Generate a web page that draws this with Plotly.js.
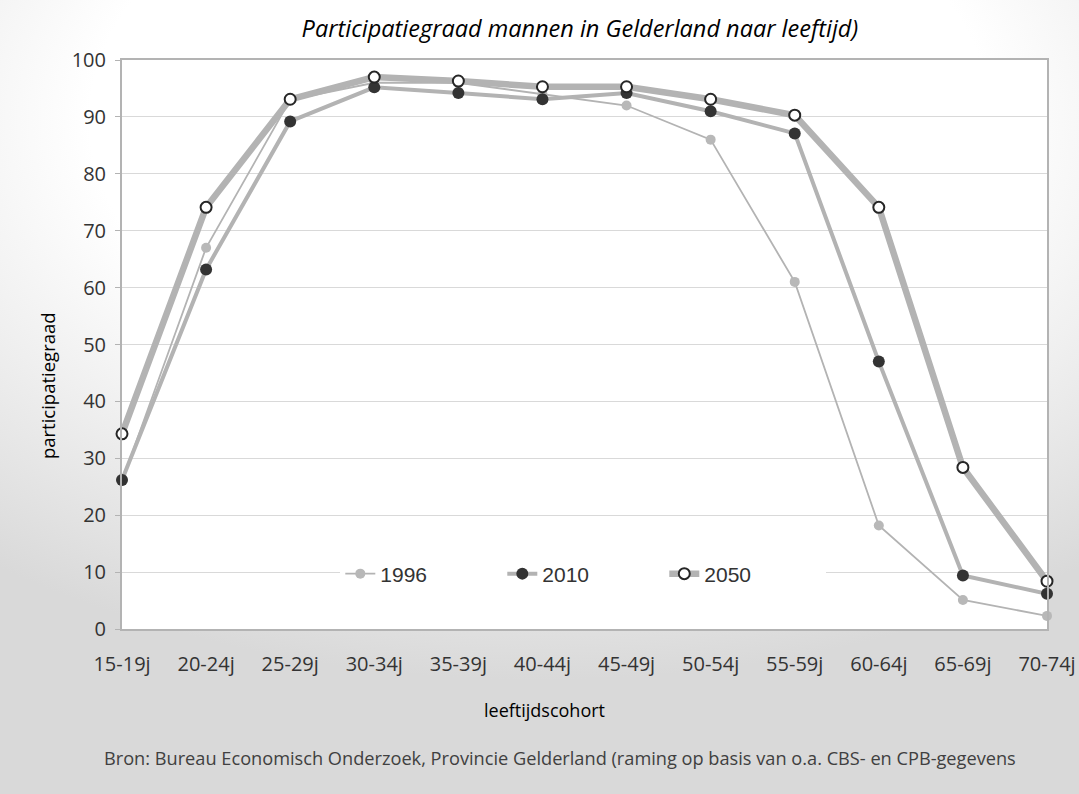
<!DOCTYPE html>
<html>
<head>
<meta charset="utf-8">
<script src="https://cdn.plot.ly/plotly-3.0.1.min.js"></script>
<style>
  html, body { margin: 0; padding: 0; }
  body {
    width: 1079px; height: 794px; overflow: hidden;
    background: radial-gradient(ellipse 900px 560px at 540px 120px, #ffffff 50%, #d9d9d9 100%);
  }
  #chart { width: 1079px; height: 794px; }
</style>
</head>
<body>
<div id="chart"></div>
<script>
const categories = ["15-19j","20-24j","25-29j","30-34j","35-39j","40-44j","45-49j","50-54j","55-59j","60-64j","65-69j","70-74j"];
const y1996 = [26, 67, 93, 96, 96, 94, 92, 86, 61, 18.2, 5.1, 2.3];
const y2010 = [26.2, 63.2, 89.2, 95.2, 94.2, 93.1, 94.2, 91, 87.1, 47, 9.4, 6.2];
const y2050 = [34.3, 74.1, 93.1, 97, 96.3, 95.3, 95.3, 93.1, 90.3, 74.1, 28.4, 8.4];
const yTicks = [0,10,20,30,40,50,60,70,80,90,100];

const lineGray = '#b3b3b3';

const traces = [
  {
    x: categories, y: y1996, name: '1996', type: 'scatter', mode: 'lines+markers',
    line: {color: lineGray, width: 1.8},
    marker: {color: '#b8b8b8', size: 10, line: {width: 0}},
    cliponaxis: false
  },
  {
    x: categories, y: y2010, name: '2010', type: 'scatter', mode: 'lines+markers',
    line: {color: lineGray, width: 4},
    marker: {color: '#333333', size: 12, line: {width: 0}},
    cliponaxis: false
  },
  {
    x: categories, y: y2050, name: '2050', type: 'scatter', mode: 'lines+markers',
    line: {color: lineGray, width: 6.5},
    marker: {color: '#ffffff', size: 11, line: {width: 2, color: '#262626'}},
    cliponaxis: false
  }
];

const layout = {
  width: 1079, height: 794,
  paper_bgcolor: 'rgba(0,0,0,0)',
  plot_bgcolor: '#ffffff',
  margin: {l: 122, r: 32, t: 60, b: 165, pad: 0},
  showlegend: true,
  title: {
    text: 'Participatiegraad mannen in Gelderland naar leeftijd)',
    font: {family: 'Open Sans', size: 23.5, color: '#000000', style: 'italic'},
    x: 0.495, xref: 'paper', xanchor: 'center',
    y: 0.964, yref: 'container', yanchor: 'middle'
  },
  xaxis: {
    type: 'category',
    range: [0, 11],
    showgrid: false,
    zeroline: false,
    showline: true, linecolor: lineGray, linewidth: 2, mirror: true,
    ticks: '',
    tickfont: {family: 'Open Sans', size: 20, color: '#333333'},
    ticklabelstandoff: 16,
    fixedrange: true
  },
  yaxis: {
    range: [0, 100],
    tickvals: yTicks,
    ticktext: yTicks.map(String),
    showgrid: true, gridcolor: '#d9d9d9', gridwidth: 1,
    zeroline: false,
    showline: true, linecolor: lineGray, linewidth: 2, mirror: true,
    ticks: 'outside', ticklen: 5, tickcolor: lineGray, tickwidth: 1,
    tickfont: {family: 'Open Sans', size: 20, color: '#333333'},
    ticklabelstandoff: 5,
    fixedrange: true
  },
  legend: {
    orientation: 'h',
    x: 0.236, xanchor: 'left',
    y: 0.0967, yanchor: 'middle',
    bgcolor: '#ffffff',
    borderwidth: 0,
    font: {family: 'Liberation Sans, Arial, sans-serif', size: 21, color: '#333333'},
    entrywidth: 117, entrywidthmode: 'pixels',
    traceorder: 'normal'
  },
  annotations: [
    {
      text: 'participatiegraad', xref: 'paper', yref: 'paper',
      x: -0.081, y: 0.427, xanchor: 'center', yanchor: 'middle',
      textangle: -90, showarrow: false,
      font: {family: 'Open Sans', size: 18.5, color: '#000000'}
    },
    {
      text: 'leeftijdscohort', xref: 'paper', yref: 'paper',
      x: 0.457, y: -0.142, xanchor: 'center', yanchor: 'middle',
      showarrow: false,
      font: {family: 'Open Sans', size: 18, color: '#000000'}
    },
    {
      text: 'Bron: Bureau Economisch Onderzoek, Provincie Gelderland (raming op basis van o.a. CBS- en CPB-gegevens',
      xref: 'paper', yref: 'paper',
      x: 0.473, y: -0.227, xanchor: 'center', yanchor: 'middle',
      showarrow: false,
      font: {family: 'Open Sans', size: 18.2, color: '#404040'}
    }
  ]
};

Plotly.newPlot('chart', traces, layout, {displayModeBar: false, staticPlot: true});
</script>
</body>
</html>
